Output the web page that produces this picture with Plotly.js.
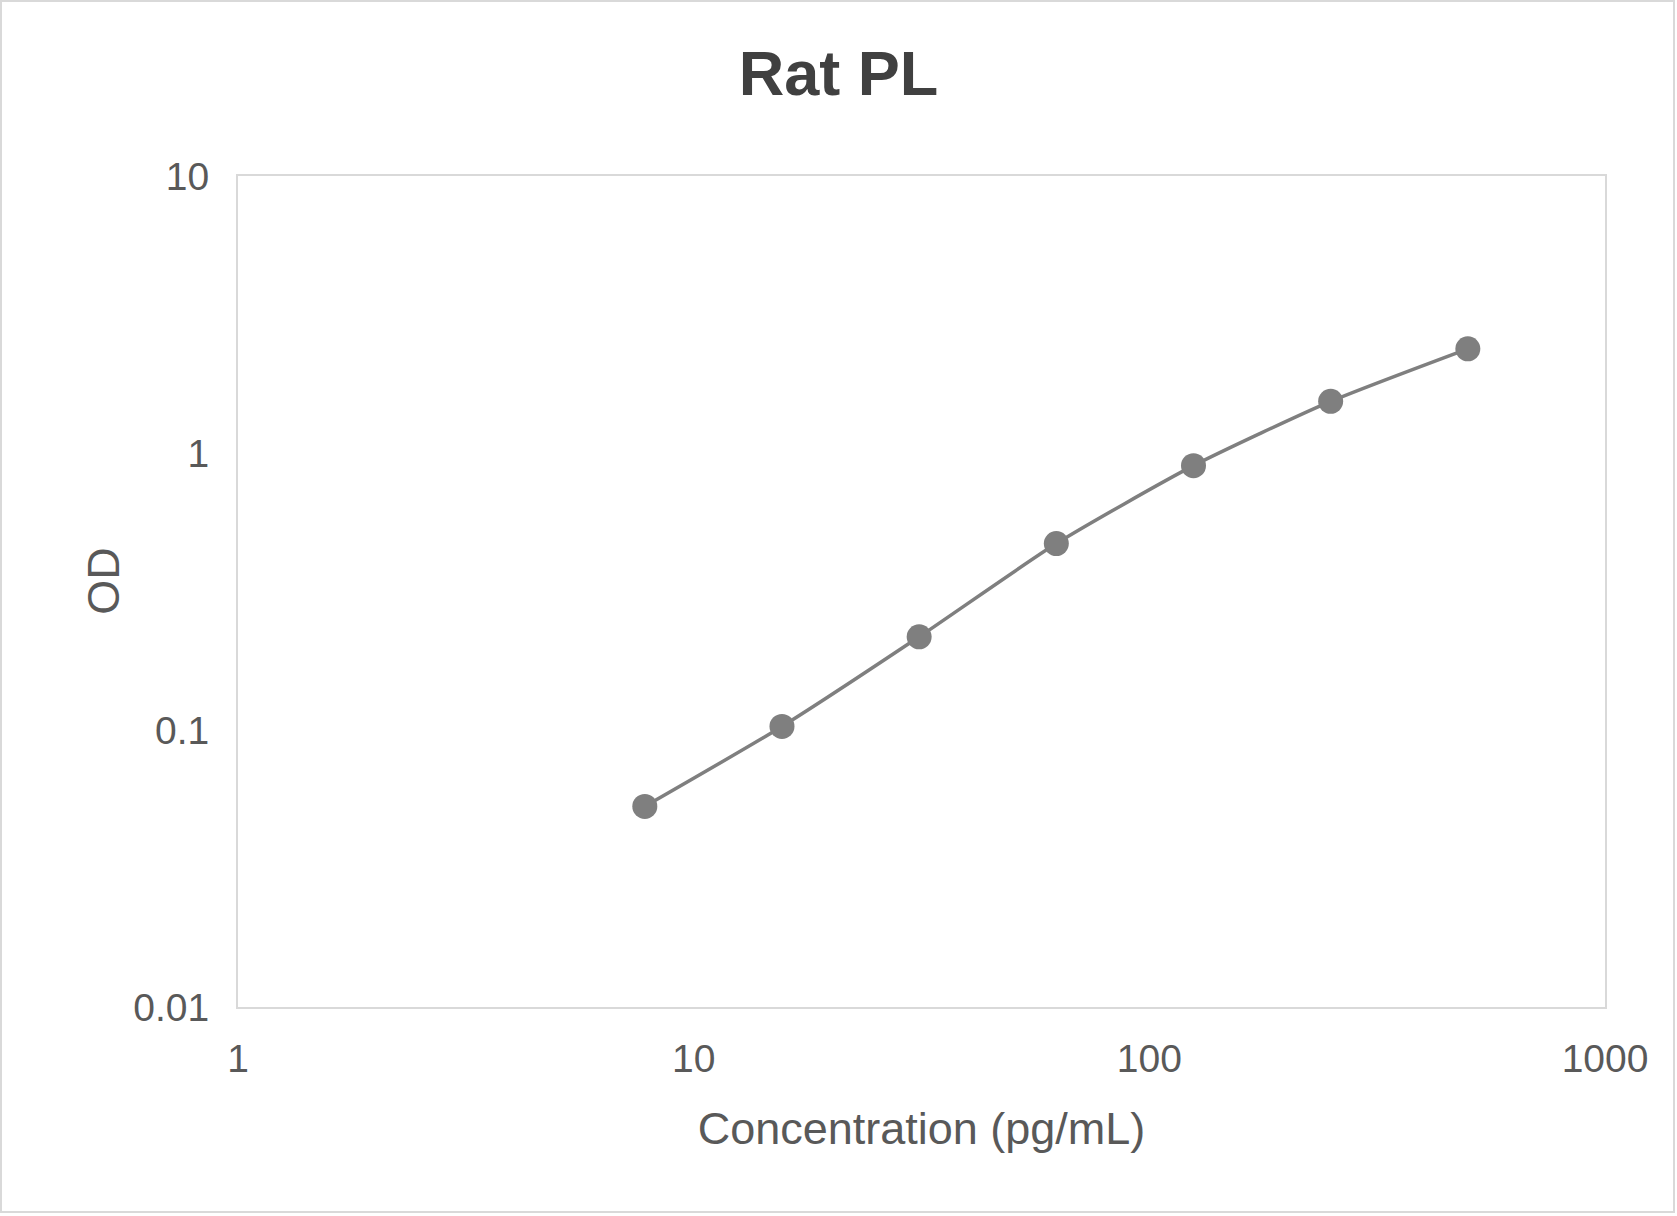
<!DOCTYPE html>
<html>
<head>
<meta charset="utf-8">
<script src="https://cdn.plot.ly/plotly-3.0.1.min.js"></script>
<style>
  html, body { margin: 0; padding: 0; background: #ffffff; }
  #wrap { position: relative; width: 1677px; height: 1216px; }
  #chart { width: 1677px; height: 1216px; }
  #frame { position: absolute; left: 0; top: 0; width: 1675px; height: 1213px; border: 2px solid #d9d9d9; box-sizing: border-box; pointer-events: none; }
</style>
</head>
<body>
<div id="wrap">
  <div id="chart"></div>
  <div id="frame"></div>
</div>
<script>
// Data
const concentration = [7.8125, 15.625, 31.25, 62.5, 125, 250, 500];
const od = [0.053, 0.103, 0.217, 0.471, 0.900, 1.536, 2.378];

const xTickVals = [1, 10, 100, 1000];
const xTickText = ['1', '10', '100', '1000'];
const yTickVals = [0.01, 0.1, 1, 10];
const yTickText = ['0.01', '0.1', '1', '10'];

const chartTitle = 'Rat PL';
const xTitle = 'Concentration (pg/mL)';
const yTitle = 'OD';

const fontFamily = 'Liberation Sans, Arial, sans-serif';

const trace = {
  x: concentration,
  y: od,
  type: 'scatter',
  mode: 'lines+markers',
  line: { color: '#7f7f7f', width: 3.5, shape: 'spline', smoothing: 0.6 },
  marker: { color: '#7f7f7f', size: 25 },
  hoverinfo: 'x+y'
};

const layout = {
  width: 1677,
  height: 1216,
  margin: { l: 238, r: 72, t: 176, b: 209 },
  paper_bgcolor: '#ffffff',
  plot_bgcolor: '#ffffff',
  showlegend: false,
  font: { family: fontFamily, color: '#595959' },
  title: {
    text: '<b>' + chartTitle + '</b>',
    font: { family: fontFamily, size: 63, color: '#404040' },
    x: 0.5, xref: 'container',
    y: 0.94, yref: 'container', yanchor: 'middle'
  },
  annotations: [{
    text: yTitle,
    textangle: -90,
    xref: 'paper', yref: 'paper',
    x: -0.098, y: 0.513,
    xanchor: 'center', yanchor: 'middle',
    showarrow: false,
    font: { family: fontFamily, size: 45, color: '#595959' }
  }],
  xaxis: {
    type: 'log',
    range: [0, 3],
    tickvals: xTickVals,
    ticktext: xTickText,
    ticks: '',
    showgrid: false,
    zeroline: false,
    showline: true,
    mirror: true,
    linecolor: '#d9d9d9',
    linewidth: 2,
    tickfont: { family: fontFamily, size: 39, color: '#595959' },
    ticklabelstandoff: 16,
    title: { text: xTitle, font: { family: fontFamily, size: 45, color: '#595959' }, standoff: 34 }
  },
  yaxis: {
    type: 'log',
    range: [-2, 1],
    tickvals: yTickVals,
    ticktext: yTickText,
    ticks: '',
    showgrid: false,
    zeroline: false,
    showline: true,
    mirror: true,
    linecolor: '#d9d9d9',
    linewidth: 2,
    tickfont: { family: fontFamily, size: 39, color: '#595959' },
    ticklabelstandoff: 19
  }
};

Plotly.newPlot('chart', [trace], layout, { displayModeBar: false, staticPlot: true });
</script>
</body>
</html>
